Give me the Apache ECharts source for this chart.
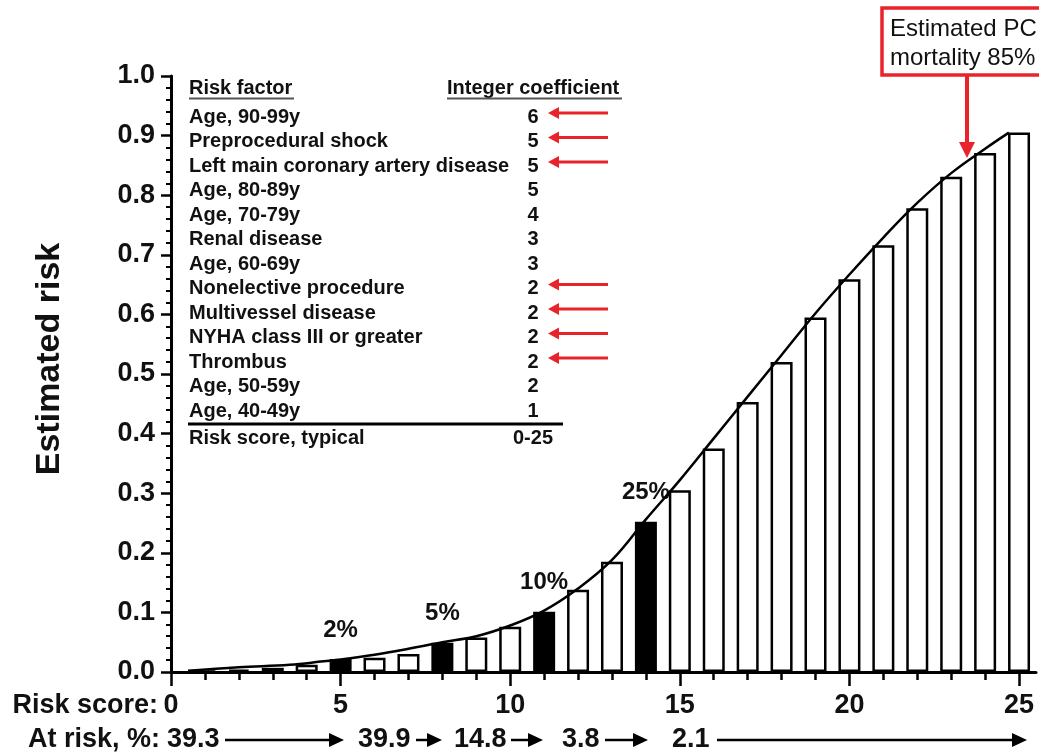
<!DOCTYPE html>
<html><head><meta charset="utf-8">
<script src="https://cdn.jsdelivr.net/npm/echarts@6/dist/echarts.min.js"></script>
<style>html,body{margin:0;padding:0;background:#fff}#c{width:1039px;height:754px}</style>
</head><body><div id="c"></div>
<script>
// ---------------- data ----------------
const riskScores = [1,2,3,4,5,6,7,8,9,10,11,12,13,14,15,16,17,18,19,20,21,22,23,24,25];
const barValues  = [0.002,0.004,0.007,0.012,0.022,0.024,0.030,0.049,0.058,0.076,0.101,0.138,0.185,0.252,0.305,0.375,0.453,0.520,0.595,0.659,0.716,0.778,0.831,0.871,0.905];
const highlightScores = [5, 8, 11, 14];
const highlightLabels = ['2%', '5%', '10%', '25%'];
const curveX = [0.5, 2, 3.5, 4.5, 5, 6, 7, 8, 9, 10, 11, 12, 13, 14, 15, 16, 17, 18, 19, 20, 21, 22, 23, 24, 24.7];
const curveY = [0.002, 0.008, 0.012, 0.018, 0.021, 0.029, 0.039, 0.050, 0.060, 0.078, 0.103, 0.140, 0.188, 0.256, 0.322, 0.392, 0.462, 0.532, 0.602, 0.667, 0.729, 0.787, 0.837, 0.878, 0.905];
const xMajorTicks = [0, 5, 10, 15, 20, 25];
const xMinorTicks = [0,1,2,3,4,5,6,7,8,9,10,11,12,13,14,15,16,17,18,19,20,21,22,23,24,25];
const riskFactors = ['Age, 90-99y','Preprocedural shock','Left main coronary artery disease','Age, 80-89y','Age, 70-79y','Renal disease','Age, 60-69y','Nonelective procedure','Multivessel disease','NYHA class III or greater','Thrombus','Age, 50-59y','Age, 40-49y'];
const coefficients = ['6','5','5','5','4','3','3','2','2','2','2','2','1'];
const flaggedRows = [0, 1, 2, 7, 8, 9, 10];
const tableHeader = ['Risk factor', 'Integer coefficient'];
const tableFooter = ['Risk score, typical', '0-25'];
const atRiskLabels = ['39.3', '39.9', '14.8', '3.8', '2.1'];
const annotationLines = ['Estimated PCI', 'mortality 85%'];

// ---------------- styling ----------------
const FONT = "'Liberation Sans', Arial, Helvetica, sans-serif";
const RED = '#e8232a';
const INK = '#111';

const chart = echarts.init(document.getElementById('c'), null, {renderer: 'canvas'});

const barData = riskScores.map((s, i) => {
  const h = highlightScores.indexOf(s);
  return {
    value: [s, barValues[i]],
    itemStyle: { color: h >= 0 ? '#000' : '#fff' },
    label: h >= 0 ? { show: true, formatter: highlightLabels[h] } : { show: false }
  };
});

const graphics = [];
function txt(x, y, text, opt) {
  opt = opt || {};
  graphics.push({
    type: 'text', x: x, y: y, rotation: opt.rotation || 0, z: 100,
    style: {
      text: text, fill: opt.fill || INK,
      font: (opt.weight || 'bold') + ' ' + (opt.size || 20) + 'px ' + FONT,
      align: opt.align || 'left', verticalAlign: 'middle',
      textAlign: opt.align || 'left', textVerticalAlign: 'middle'
    }
  });
}
function line(x1, y1, x2, y2, color, w) {
  graphics.push({ type: 'line', z: 100, shape: {x1, y1, x2, y2}, style: {stroke: color, lineWidth: w} });
}
function arrowRight(x1, x2, y, color, w, hl, hh) {
  line(x1, y, x2 - hl + 1, y, color, w);
  graphics.push({ type: 'polygon', z: 100, shape: {points: [[x2 - hl, y - hh / 2], [x2, y], [x2 - hl, y + hh / 2]]}, style: {fill: color} });
}
function arrowLeft(x1, x2, y, color, w, hl, hh) {
  line(x1, y, x2 + hl - 1, y, color, w);
  graphics.push({ type: 'polygon', z: 100, shape: {points: [[x2 + hl, y - hh / 2], [x2, y], [x2 + hl, y + hh / 2]]}, style: {fill: color} });
}
function arrowDown(x, y1, y2, color, w, hl, hw) {
  line(x, y1, x, y2 - hl + 1, color, w);
  graphics.push({ type: 'polygon', z: 100, shape: {points: [[x - hw / 2, y2 - hl], [x, y2], [x + hw / 2, y2 - hl]]}, style: {fill: color} });
}

// y-axis title
txt(50, 359, 'Estimated risk', {size: 34, align: 'center', rotation: Math.PI / 2});

// table
txt(189, 88, tableHeader[0], {size: 20});
line(189, 98.5, 294, 98.5, '#555', 2);
txt(447, 88, tableHeader[1], {size: 20});
line(447, 98.5, 622, 98.5, '#555', 2);
riskFactors.forEach((r, i) => {
  const y = 117 + 24.5 * i;
  txt(189, y, r, {size: 20});
  txt(533, y, coefficients[i], {size: 20, align: 'center'});
});
line(188, 424, 563, 424, '#000', 3);
txt(189, 438, tableFooter[0], {size: 20});
txt(533, 438, tableFooter[1], {size: 20, align: 'center'});
flaggedRows.forEach(i => {
  const y = 117 + 24.5 * i - 4;
  arrowLeft(608, 548, y, RED, 3, 11, 12);
});

// annotation box
graphics.push({ type: 'rect', z: 100, shape: {x: 882, y: 8, width: 170, height: 67}, style: {fill: '#fff', stroke: RED, lineWidth: 3.5} });
txt(890, 29, annotationLines[0], {size: 24, weight: 'normal'});
txt(890, 58, annotationLines[1], {size: 24, weight: 'normal'});
arrowDown(967, 76, 158, RED, 4, 16, 16);

// bottom rows
txt(158, 706, 'Risk score:', {size: 27, align: 'right'});
txt(160, 740, 'At risk, %:', {size: 27, align: 'right'});
const atRiskTextX = [167, 358, 454, 562, 672];
const atRiskArrows = [[225, 344], [416, 442], [511, 543], [605, 648], [717, 1027]];
atRiskLabels.forEach((t, i) => {
  txt(atRiskTextX[i], 740, t, {size: 27});
  arrowRight(atRiskArrows[i][0], atRiskArrows[i][1], 740, '#000', 2.5, 15, 14);
});

const xCommon = { type: 'value', min: 0, max: 25.5, position: 'bottom', splitLine: {show: false} };

const option = {
  animation: false,
  backgroundColor: '#fff',
  grid: { left: 171, right: 3, top: 76, bottom: 82, containLabel: false },
  xAxis: [
    Object.assign({}, xCommon, {
      axisLine: { show: true, lineStyle: {color: '#000', width: 3} },
      axisTick: { show: true, length: 8, lineStyle: {color: '#000', width: 2.5}, customValues: xMinorTicks },
      axisLabel: { show: false }
    }),
    Object.assign({}, xCommon, {
      axisLine: { show: false },
      axisTick: { show: true, length: 14, lineStyle: {color: '#000', width: 2.5}, customValues: xMajorTicks },
      axisLabel: { show: true, customValues: xMajorTicks, margin: 20, color: INK, fontFamily: FONT, fontWeight: 'bold', fontSize: 27 }
    })
  ],
  yAxis: {
    type: 'value', min: 0, max: 1, interval: 0.1,
    splitLine: { show: false },
    axisLine: { show: true, lineStyle: {color: '#000', width: 3} },
    axisTick: { show: true, length: 10, lineStyle: {color: '#000', width: 2.5} },
    minorTick: { show: true, splitNumber: 5, length: 5, lineStyle: {color: '#000', width: 2} },
    axisLabel: { margin: 16, color: INK, fontFamily: FONT, fontWeight: 'bold', fontSize: 27, formatter: v => v.toFixed(1) }
  },
  series: [
    {
      type: 'bar', xAxisIndex: 0, data: barData, barWidth: 22,
      itemStyle: { borderColor: '#000', borderWidth: 2.5 },
      label: { position: 'top', distance: 17, color: INK, fontFamily: FONT, fontWeight: 'bold', fontSize: 24 },
      z: 2
    },
    {
      type: 'line', xAxisIndex: 0, data: curveX.map((x, i) => [x, curveY[i]]),
      smooth: 0.4, showSymbol: false, symbol: 'none',
      lineStyle: { color: '#000', width: 2.5 }, z: 3
    }
  ],
  graphic: graphics
};
chart.setOption(option);
</script>
</body></html>
